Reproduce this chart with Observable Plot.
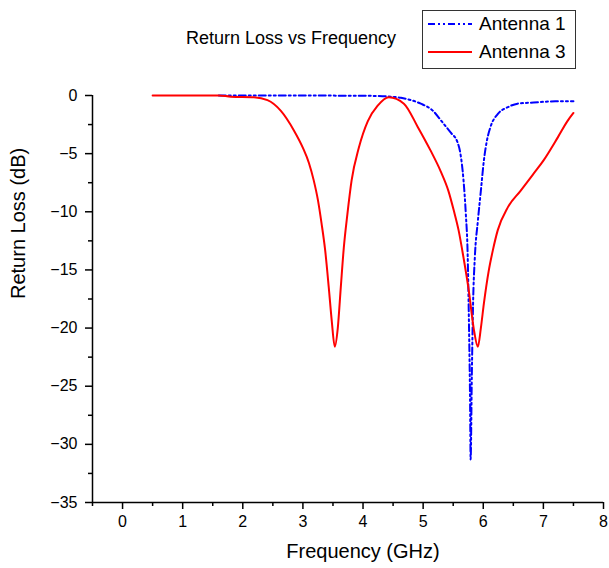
<!DOCTYPE html>
<html>
<head>
<meta charset="utf-8">
<script src="https://cdn.jsdelivr.net/npm/d3@7"></script>
<script src="https://cdn.jsdelivr.net/npm/@observablehq/plot@0.6"></script>
<style>
  body { margin: 0; background: white; font-family: "Liberation Sans", Arial, sans-serif; }
  #wrap { position: relative; width: 609px; height: 568px; }
  #title { position: absolute; left: 0; width: 582px; top: 28px; text-align: center; font-size: 18px; line-height: 20px; color: #000; }
  #legend { position: absolute; left: 422px; top: 10px; width: 152px; height: 57px; border: 1px solid #333; background: white; }
  .row { position: absolute; left: 0; height: 24px; display: flex; align-items: center; font-size: 19px; }
  .row svg { margin-left: 5px; margin-right: 7px; }
</style>
</head>
<body>
<div id="wrap">
  <div id="title">Return Loss vs Frequency</div>
  <div id="legend">
    <div class="row" style="top:1px"><svg width="44" height="10"><line x1="0" y1="5" x2="44" y2="5" stroke="#0000ff" stroke-width="2" stroke-dasharray="7,3,2,3,2,3"/></svg>Antenna 1</div>
    <div class="row" style="top:29px"><svg width="44" height="10"><line x1="0" y1="5" x2="44" y2="5" stroke="#ff0000" stroke-width="2"/></svg>Antenna 3</div>
  </div>
</div>
<script>
// Antenna 1 (blue, dash-dot-dot)
const antenna1Freq = [1.6, 2.5, 3.0, 3.5, 4.0, 4.4, 4.63, 4.8, 4.96, 5.16, 5.32, 5.46, 5.57, 5.62, 5.67, 5.71, 5.74, 5.76, 5.78, 5.79, 5.81, 5.83, 5.86, 5.91, 5.96, 6.01, 6.06, 6.12, 6.24, 6.41, 6.57, 6.84, 7.2, 7.5];
const antenna1RL   = [0, 0, 0, -0.01, -0.02, -0.08, -0.2, -0.4, -0.7, -1.3, -2.3, -3.2, -4.0, -5.0, -7.2, -10.2, -13.6, -19, -26, -31.3, -24, -18, -13.9, -10.8, -8.2, -5.6, -3.9, -2.7, -1.6, -1.0, -0.7, -0.6, -0.5, -0.5];

// Antenna 3 (red, solid)
const antenna3Freq = [0.5, 1.0, 1.6, 1.8, 2.18, 2.41, 2.63, 2.85, 3.0, 3.1, 3.18, 3.25, 3.31, 3.37, 3.43, 3.48, 3.53, 3.58, 3.63, 3.68, 3.74, 3.81, 3.93, 4.08, 4.24, 4.43, 4.68, 4.91, 5.12, 5.29, 5.42, 5.51, 5.59, 5.67, 5.76, 5.84, 5.91, 5.96, 6.01, 6.09, 6.16, 6.24, 6.41, 6.62, 6.84, 7.0, 7.24, 7.4, 7.5];
const antenna3RL   = [0, 0, 0, -0.1, -0.15, -0.4, -1.3, -3.0, -4.5, -5.8, -7.3, -9.0, -11.0, -13.3, -16.5, -19.4, -21.6, -20, -16.5, -13.1, -10.2, -7.3, -4.5, -2.2, -0.9, -0.15, -0.7, -2.7, -4.7, -6.5, -8.2, -9.9, -11.6, -13.9, -16.8, -20, -21.6, -20, -17.9, -15.1, -13.3, -11.6, -9.6, -8.2, -6.7, -5.6, -3.6, -2.2, -1.5];

const xMajor = [0, 1, 2, 3, 4, 5, 6, 7, 8];
const xMinor = [-0.5, 0.5, 1.5, 2.5, 3.5, 4.5, 5.5, 6.5, 7.5];
const yMajor = [0, -5, -10, -15, -20, -25, -30, -35];
const yMinor = [-2.5, -7.5, -12.5, -17.5, -22.5, -27.5, -32.5];

const a1 = antenna1Freq.map((f, i) => ({f, rl: antenna1RL[i]}));
const a3 = antenna3Freq.map((f, i) => ({f, rl: antenna3RL[i]}));

const chart = Plot.plot({
  width: 609,
  height: 568,
  marginLeft: 92,
  marginRight: 6,
  marginTop: 95,
  marginBottom: 66,
  x: {domain: [-0.5, 8]},
  y: {domain: [-35, 0]},
  style: {fontFamily: "'Liberation Sans', Arial, sans-serif", fontSize: "16px", color: "#000", background: "transparent", overflow: "visible"},
  marks: [
    Plot.axisX(xMinor, {tickSize: 4, tickFormat: () => "", label: null, strokeWidth: 1.5}),
    Plot.axisX(xMajor, {tickSize: 7, tickPadding: 6, label: null, fontSize: 16, strokeWidth: 1.5}),
    Plot.axisY(yMinor, {tickSize: 4, tickFormat: () => "", label: null, strokeWidth: 1.5}),
    Plot.axisY(yMajor, {tickSize: 7, tickPadding: 8, label: null, fontSize: 16, strokeWidth: 1.5}),
    Plot.ruleY([-35], {stroke: "#000", strokeWidth: 1.5}),
    Plot.ruleX([-0.5], {stroke: "#000", strokeWidth: 1.5}),
    Plot.line(a1, {x: "f", y: "rl", stroke: "#0000ff", strokeWidth: 2, strokeDasharray: "7,3,2,3,2,3", curve: "monotone-x"}),
    Plot.line(a3, {x: "f", y: "rl", stroke: "#ff0000", strokeWidth: 2, curve: "monotone-x"}),
    Plot.text(["Frequency (GHz)"], {frameAnchor: "bottom", dx: 15, dy: 55, fontSize: 20}),
    Plot.text(["Return Loss (dB)"], {frameAnchor: "left", dx: -74, rotate: -90, fontSize: 20})
  ]
});
chart.style.position = "absolute";
chart.style.left = "0px";
chart.style.top = "0px";
document.getElementById("wrap").prepend(chart);
</script>
</body>
</html>
